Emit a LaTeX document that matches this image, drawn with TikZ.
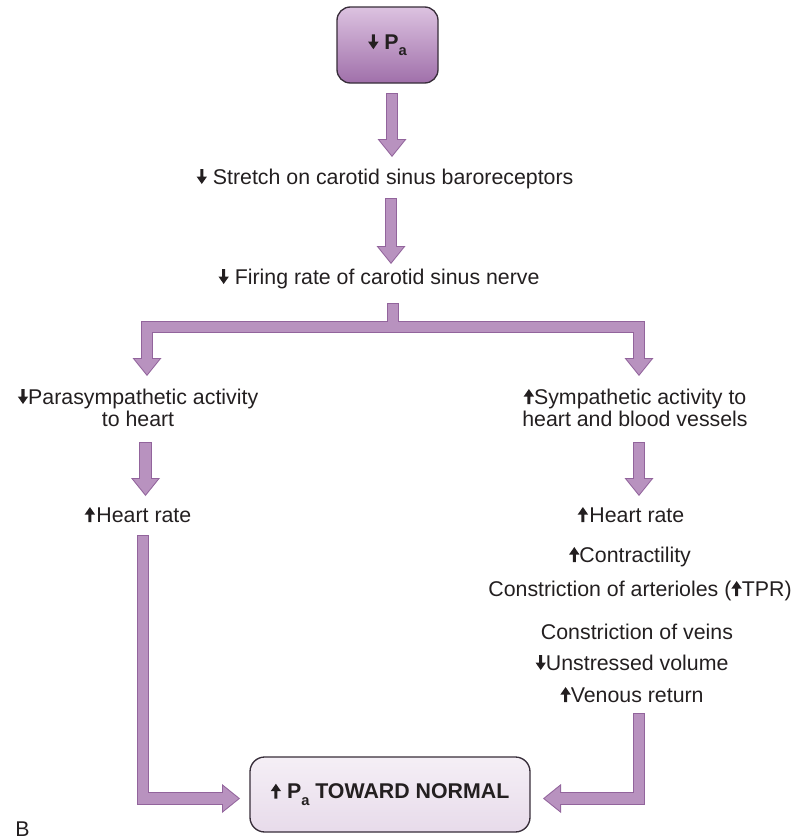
\documentclass[tikz,border=0pt]{standalone}
\usepackage{fontspec}
\setmainfont{Liberation Sans}
\usetikzlibrary{arrows.meta}
\definecolor{arrfill}{RGB}{184,146,191}
\definecolor{arrline}{RGB}{146,100,156}
\definecolor{txt}{RGB}{35,31,32}
\definecolor{boxtop}{RGB}{220,194,224}
\definecolor{boxbot}{RGB}{160,112,170}
\definecolor{boxline}{RGB}{55,45,57}
\definecolor{resfill}{RGB}{240,232,242}
\newcommand\upa{\tikz[baseline=0pt,x=1pt,y=1pt,sharp corners]\fill[txt,sharp corners] (-1.15,0)--(1.15,0)--(1.15,5.6)--(3.9,5.6)--(0,11.2)--(-3.9,5.6)--(-1.15,5.6)--cycle;}
\newcommand\dna{\tikz[baseline=0pt,x=1pt,y=1pt,sharp corners]\fill[txt,sharp corners] (-1.15,11.2)--(1.15,11.2)--(1.15,5.6)--(3.9,5.6)--(0,0)--(-3.9,5.6)--(-1.15,5.6)--cycle;}
\newcommand\subA{\raisebox{-0.3em}{\fontsize{11pt}{11pt}\selectfont a}}
\newcommand\fatarr[1]{\draw[outerarr] #1; \draw[innerarr] #1;}
\tikzset{
  lbl/.style={anchor=base, text=txt, font=\fontsize{16pt}{16.5pt}\selectfont, inner sep=0pt, align=center},
  outerarr/.style={draw=arrline, line width=9.5pt, line join=miter,
    -{Triangle[width=21.75pt,length=13.5pt,line width=0pt]}},
  innerarr/.style={draw=arrfill, line width=8pt, line join=miter, shorten <=0.75pt, shorten >=1.2pt,
    -{Triangle[width=18.6pt,length=11.55pt,line width=0pt]}},
  topbox/.style={draw=boxline, line width=1pt, rounded corners=10pt, top color=boxtop, bottom color=boxbot,
    minimum width=75.75pt, minimum height=57pt, text=txt, font=\fontsize{16pt}{18pt}\selectfont\bfseries},
  resbox/.style={draw=boxline, line width=1pt, rounded corners=11pt, top color=resfill!70!white, bottom color=resfill!85!arrfill,
    minimum width=210pt, minimum height=56.25pt, text=txt, font=\fontsize{16pt}{18pt}\selectfont\bfseries},
}
\begin{document}
\begin{tikzpicture}[x=0.75pt,y=-0.75pt]
\useasboundingbox (0,0) rectangle (794,839);
% boxes
\node[topbox] (top) at (387.5,45) {\dna\ P\subA};
\node[resbox] (res) at (390,794.5) {\upa\ P\subA\ TOWARD NORMAL};
% labels
\node[lbl] (stretch) at (385,184) {\dna\ Stretch on carotid sinus baroreceptors};
\node[lbl] (firing) at (379,284) {\dna\ Firing rate of carotid sinus nerve};
\node[lbl] (para) at (138,426) {\dna Parasympathetic activity\\to heart};
\node[lbl] (symp) at (635,426) {\upa Sympathetic activity to\\heart and blood vessels};
\node[lbl] (hrL) at (138,522) {\upa\kern1pt Heart rate};
\node[lbl] (hrR) at (631,522) {\upa\kern1pt Heart rate};
\node[lbl] (contr) at (630,562) {\upa Contractility};
\node[lbl] (arter) at (640,596) {Constriction of arterioles (\upa TPR)};
\node[lbl] (veins) at (637,639) {Constriction of veins};
\node[lbl] (unstr) at (632,670) {\dna Unstressed volume};
\node[lbl] (venous) at (632,702) {\upa Venous return};
\node[lbl, anchor=base west, font=\fontsize{16pt}{18pt}\selectfont] (blabel) at (15,836) {B};
% connector coordinates
\coordinate (a1s) at (392,93);   \coordinate (a1e) at (392,157);
\coordinate (a2s) at (391,198);  \coordinate (a2e) at (391,264);
\coordinate (bs) at (393,303);   \coordinate (bm) at (393,327);
\coordinate (lt) at (147,376);   \coordinate (rt) at (639,376);
\coordinate (a3ls) at (145.5,442); \coordinate (a3le) at (145.5,496);
\coordinate (a3rs) at (639,442);   \coordinate (a3re) at (639,496);
\coordinate (lls) at (143,535);  \coordinate (llc) at (143,798.5); \coordinate (lle) at (240,798.5);
\coordinate (rls) at (639,713);  \coordinate (rlc) at (639,798.5); \coordinate (rle) at (543,798.5);
% connectors
\fatarr{(a1s) -- (a1e)}
\fatarr{(a2s) -- (a2e)}
\draw[outerarr] (bs) -- (bm) -| (lt);
\draw[outerarr] (bs) -- (bm) -| (rt);
\draw[innerarr] (bs) -- (bm) -| (lt);
\draw[innerarr] (bs) -- (bm) -| (rt);
\fatarr{(a3ls) -- (a3le)}
\fatarr{(a3rs) -- (a3re)}
\fatarr{(lls) -- (llc) -- (lle)}
\fatarr{(rls) -- (rlc) -- (rle)}
\end{tikzpicture}
\end{document}
